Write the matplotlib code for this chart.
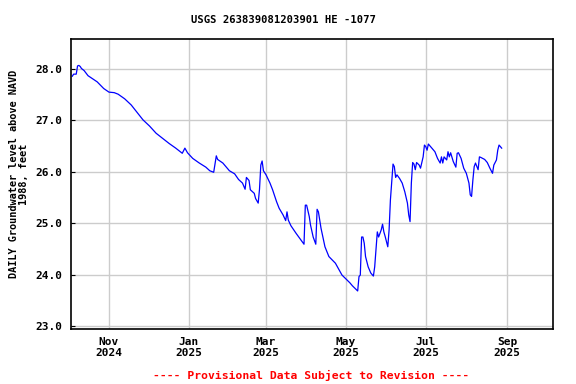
import matplotlib
matplotlib.use('Agg')
import matplotlib.pyplot as plt
import matplotlib.dates as mdates
import pandas as pd

title = 'USGS 263839081203901 HE -1077'
ylabel = 'DAILY Groundwater level above NAVD\n1988, feet'
footer = '---- Provisional Data Subject to Revision ----'

dates = [
    '2024-10-04', '2024-10-05', '2024-10-07', '2024-10-08', '2024-10-09', '2024-10-10',
    '2024-10-11', '2024-10-13', '2024-10-16', '2024-10-23', '2024-10-28', '2024-11-01',
    '2024-11-05', '2024-11-08', '2024-11-13', '2024-11-18', '2024-11-23', '2024-11-27',
    '2024-12-02', '2024-12-07', '2024-12-12', '2024-12-17', '2024-12-22', '2024-12-27',
    '2024-12-29', '2024-12-31', '2025-01-04', '2025-01-09', '2025-01-14', '2025-01-17',
    '2025-01-20', '2025-01-22', '2025-01-23', '2025-01-27', '2025-02-01', '2025-02-05',
    '2025-02-08', '2025-02-11', '2025-02-13', '2025-02-14', '2025-02-16', '2025-02-17',
    '2025-02-20', '2025-02-21', '2025-02-23', '2025-02-24', '2025-02-25', '2025-02-26',
    '2025-02-27', '2025-03-01', '2025-03-04', '2025-03-06', '2025-03-09', '2025-03-11',
    '2025-03-14', '2025-03-16', '2025-03-17', '2025-03-18', '2025-03-20', '2025-03-24',
    '2025-03-26', '2025-03-30', '2025-03-31', '2025-04-01', '2025-04-03', '2025-04-04',
    '2025-04-06', '2025-04-08', '2025-04-09', '2025-04-10', '2025-04-12', '2025-04-15',
    '2025-04-18', '2025-04-23', '2025-04-28', '2025-05-04', '2025-05-06', '2025-05-10',
    '2025-05-11', '2025-05-12', '2025-05-13', '2025-05-14', '2025-05-15', '2025-05-16',
    '2025-05-18', '2025-05-20', '2025-05-22', '2025-05-23', '2025-05-24', '2025-05-25',
    '2025-05-26', '2025-05-28', '2025-05-29', '2025-05-30', '2025-05-31', '2025-06-02',
    '2025-06-03', '2025-06-04', '2025-06-05', '2025-06-06', '2025-06-07', '2025-06-08',
    '2025-06-09', '2025-06-11', '2025-06-13', '2025-06-15', '2025-06-17', '2025-06-18',
    '2025-06-19', '2025-06-20', '2025-06-21', '2025-06-22', '2025-06-23', '2025-06-24',
    '2025-06-26', '2025-06-27', '2025-06-29', '2025-06-30', '2025-07-01', '2025-07-02',
    '2025-07-03', '2025-07-05', '2025-07-08', '2025-07-10', '2025-07-12', '2025-07-13',
    '2025-07-14', '2025-07-15', '2025-07-17', '2025-07-18', '2025-07-19', '2025-07-20',
    '2025-07-22', '2025-07-24', '2025-07-25', '2025-07-26', '2025-07-28', '2025-07-30',
    '2025-08-01', '2025-08-03', '2025-08-04', '2025-08-05', '2025-08-06', '2025-08-07',
    '2025-08-08', '2025-08-10', '2025-08-11', '2025-08-12', '2025-08-15', '2025-08-17',
    '2025-08-19', '2025-08-21', '2025-08-22', '2025-08-24', '2025-08-25', '2025-08-26',
    '2025-08-28',
]
levels = [
    27.86, 27.90, 27.90, 28.06, 28.07, 28.05,
    28.01, 27.97, 27.87, 27.75, 27.62, 27.55,
    27.54, 27.51, 27.42, 27.30, 27.14, 27.01,
    26.89, 26.75, 26.65, 26.55, 26.46, 26.36,
    26.46, 26.37, 26.26, 26.17, 26.09, 26.02,
    25.99, 26.31, 26.24, 26.17, 26.02, 25.96,
    25.85, 25.78, 25.66, 25.89, 25.83, 25.65,
    25.58, 25.48, 25.39, 25.66, 26.13, 26.21,
    26.02, 25.94, 25.78, 25.65, 25.42, 25.29,
    25.16, 25.05, 25.22, 25.06, 24.95, 24.80,
    24.73, 24.59, 25.35, 25.35, 25.13, 24.96,
    24.73, 24.59, 25.27, 25.22, 24.90, 24.54,
    24.35, 24.22, 23.99, 23.84, 23.78, 23.68,
    23.96, 23.99, 24.73, 24.73, 24.61, 24.35,
    24.15, 24.03, 23.97, 24.15, 24.48, 24.83,
    24.73, 24.87, 24.98, 24.83, 24.74, 24.54,
    24.87, 25.45, 25.81, 26.15, 26.10, 25.89,
    25.94, 25.87, 25.78, 25.61, 25.39, 25.16,
    25.03, 25.78, 26.18, 26.15, 26.04, 26.18,
    26.13, 26.07, 26.29, 26.52, 26.49, 26.42,
    26.54, 26.48, 26.39, 26.26, 26.17, 26.29,
    26.17, 26.29, 26.23, 26.39, 26.29, 26.37,
    26.20, 26.09, 26.36, 26.37, 26.26, 26.07,
    25.97, 25.78, 25.55, 25.52, 25.84, 26.10,
    26.17, 26.04, 26.29, 26.28, 26.24, 26.18,
    26.07, 25.97, 26.13, 26.23, 26.42, 26.52,
    26.46,
]

yticks = [23.0, 24.0, 25.0, 26.0, 27.0, 28.0]
xticks = ['2024-11-01', '2025-01-01', '2025-03-01', '2025-05-01', '2025-07-01', '2025-09-01']
xlabels = ['Nov\n2024', 'Jan\n2025', 'Mar\n2025', 'May\n2025', 'Jul\n2025', 'Sep\n2025']

font = 'DejaVu Sans Mono'

fig = plt.figure(figsize=(5.76, 3.84), dpi=100)
ax = fig.add_axes([71 / 576, 1 - 329 / 384, (553 - 71) / 576, (329 - 39) / 384])

ax.plot(pd.to_datetime(dates), levels, color='#0000ff', linewidth=0.9)

ax.set_xlim(pd.Timestamp('2024-10-03'), pd.Timestamp('2025-10-06 05:00'))
ax.set_ylim(22.94, 28.584)

ax.set_yticks(yticks)
ax.set_yticklabels(['%.1f' % v for v in yticks], fontfamily=font, fontweight='bold', fontsize=8)
ax.set_xticks(pd.to_datetime(xticks))
ax.set_xticklabels(xlabels, fontfamily=font, fontweight='bold', fontsize=8, linespacing=1.1)
ax.tick_params(axis='y', direction='in', length=3, pad=6)
ax.tick_params(axis='x', length=0, pad=6)

ax.grid(True, color='#cccccc', linewidth=1)
ax.set_axisbelow(True)
for s in ax.spines.values():
    s.set_linewidth(1.2)

fig.text(283 / 576, 1 - 20 / 384, title, ha='center', va='center',
         fontfamily=font, fontweight='bold', fontsize=7.6)
fig.text(19 / 576, 1 - 174 / 384, ylabel, ha='center', va='center', rotation=90,
         multialignment='center', fontfamily=font, fontweight='bold', fontsize=7.4,
         linespacing=1.0)
fig.text(311 / 576, 1 - 375 / 384, footer, ha='center', va='center', color='red',
         fontfamily=font, fontweight='bold', fontsize=8.2)

fig.savefig('out.png', dpi=100)
